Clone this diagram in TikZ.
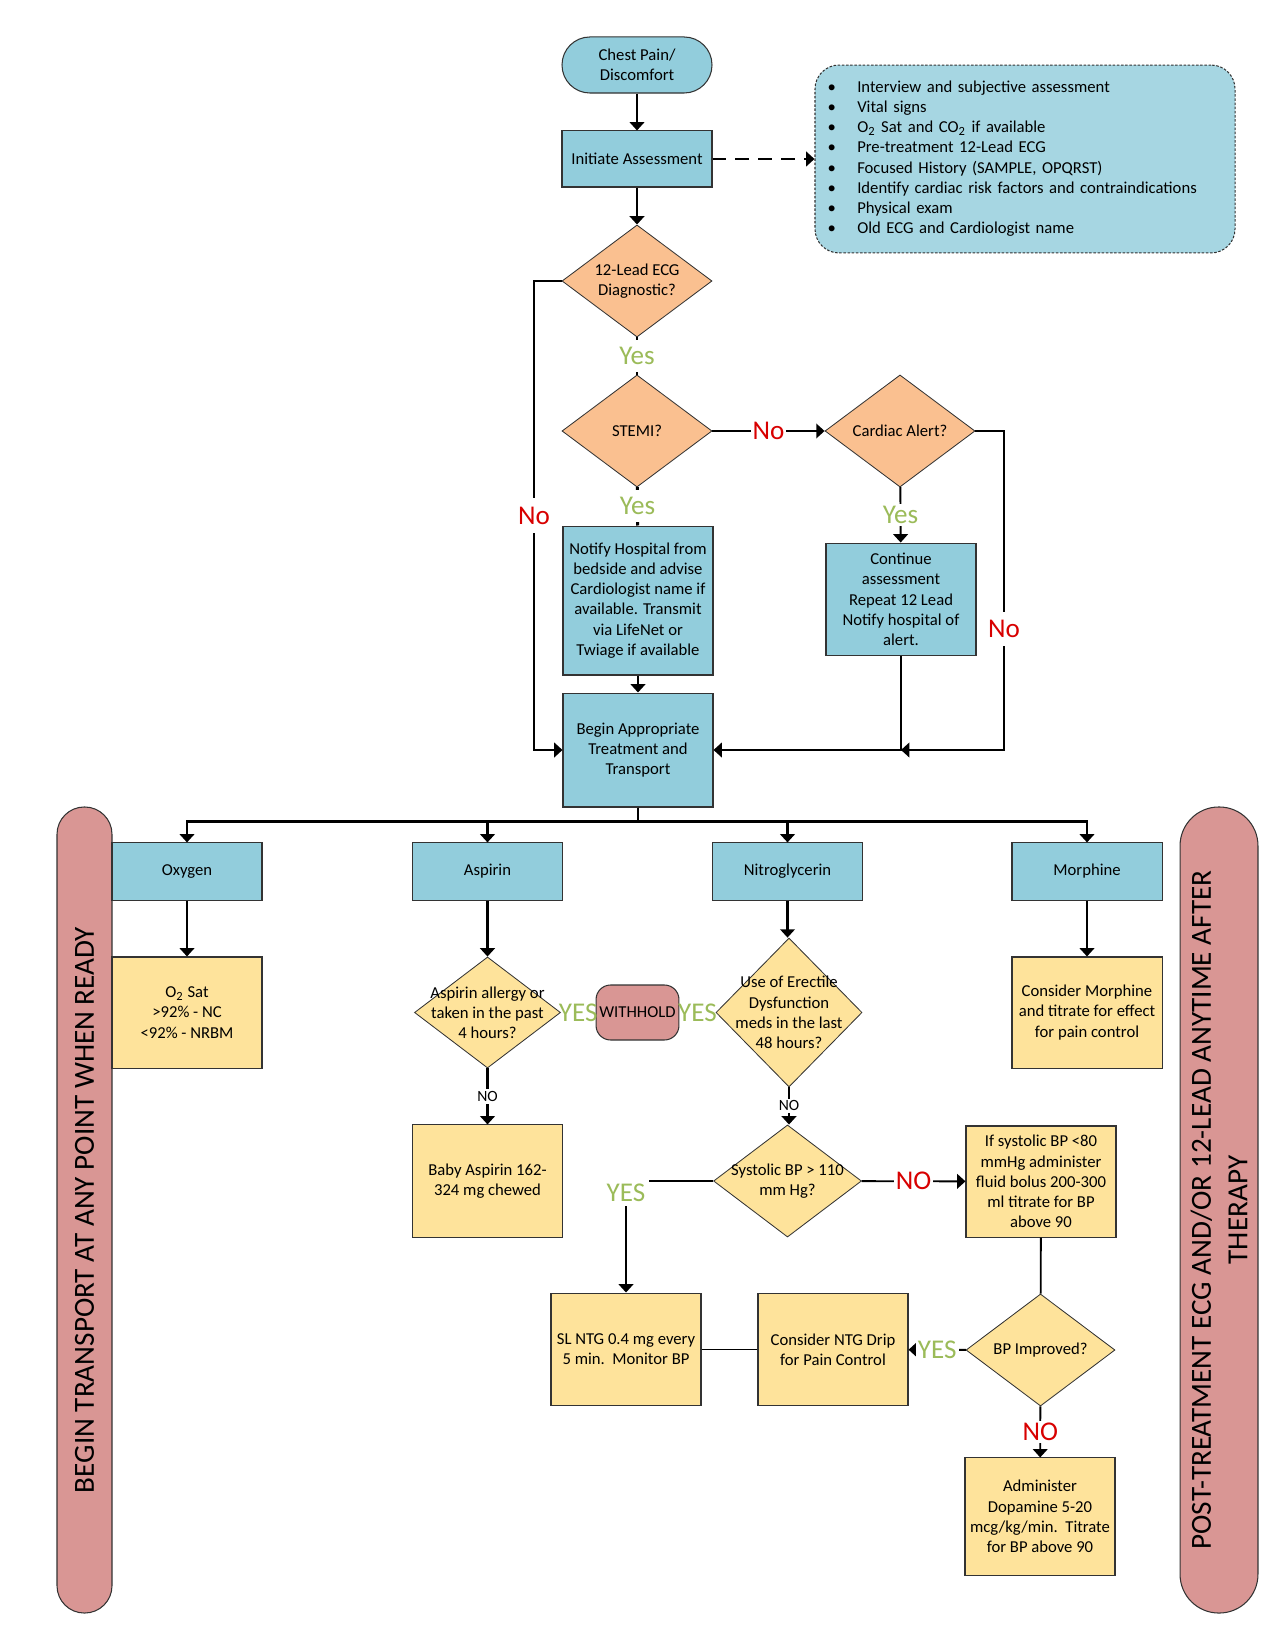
\documentclass[tikz,border=0pt]{standalone}
\usepackage{fontspec}
\setmainfont{Carlito}
\usetikzlibrary{shapes.geometric,arrows.meta}
\definecolor{boxblue}{HTML}{92CDDC}
\definecolor{infoblue}{HTML}{A6D6E2}
\definecolor{diaorange}{HTML}{FAC090}
\definecolor{boxyellow}{HTML}{FEE39B}
\definecolor{barred}{HTML}{D99694}
\definecolor{yesgreen}{HTML}{9BBB59}
\definecolor{nored}{HTML}{D80000}

\begin{document}
\begin{tikzpicture}[x=0.48pt, y=-0.48pt,
        box/.style={draw=black!80, line width=0.5pt, fill=boxblue, minimum width=72pt, minimum height=27.4pt,
            inner sep=1pt, align=center, font=\fontsize{8}{9.7}\selectfont},
        ybox/.style={box, fill=boxyellow, minimum height=53.3pt},
        startbox/.style={box, rounded corners=13.4pt, minimum height=26.9pt},
        infobox/.style={draw=black!80, line width=0.5pt, dash pattern=on 1.2pt off 0.8pt, fill=infoblue,
            rounded corners=11.5pt, text width=189.4pt, inner xsep=6.1pt, minimum height=90.2pt, align=left,
            font=\fontsize{8}{9.7}\selectfont},
        dia/.style={diamond, draw=black!80, line width=0.4pt, fill=diaorange, minimum width=72pt,
            minimum height=53.8pt, inner sep=0pt},
        ydia/.style={dia, fill=boxyellow},
        dtxt/.style={align=center, inner sep=0pt, font=\fontsize{8}{9.7}\selectfont},
        holdbox/.style={box, fill=barred, rounded corners=7pt, minimum width=39.8pt, minimum height=26.4pt},
        sidebar/.style={draw=black!80, line width=0.5pt, fill=barred, rotate=90, minimum width=386.9pt,
            align=center, inner sep=0pt, font=\fontsize{14}{17.5}\selectfont},
        arr/.style={line width=1.4pt, -{Triangle[length=4pt,width=7pt]}},
        marr/.style={line width=0.9pt, -{Triangle[length=4pt,width=7pt]}},
        link/.style={line width=1.4pt},
        mlink/.style={line width=0.9pt},
        yes/.style={font=\fontsize{13}{15}\selectfont, text=yesgreen, fill=white, inner sep=1pt},
        no/.style={yes, text=nored},
        sno/.style={font=\fontsize{7.5}{9}\selectfont, fill=white, inner sep=1pt}]

    \useasboundingbox (0,0) rectangle (1275,1650);

    \node[sidebar, minimum height=26.4pt, rounded corners=13.1pt] (leftbar) at (84.5,1210) {BEGIN TRANSPORT AT ANY POINT WHEN READY};
    \node[sidebar, minimum height=37.4pt, rounded corners=18.6pt] (rightbar) at (1219,1210) {POST-TREATMENT ECG AND/OR 12-LEAD ANYTIME AFTER\\THERAPY};

    \node[startbox] (chest) at (637,65) {Chest Pain/\\Discomfort};
    \node[box, minimum height=26.9pt] (init) at (637,159) {Initiate Assessment};
    \node[infobox] (info) at (1025,159) {\begin{tabular}{@{}l@{\hspace{10.2pt}}l@{}}
        \textbullet & Interview and subjective assessment\\
        \textbullet & Vital signs\\
        \textbullet & O\textsubscript{2} Sat and CO\textsubscript{2} if available\\
        \textbullet & Pre-treatment 12-Lead ECG\\
        \textbullet & Focused History (SAMPLE, OPQRST)\\
        \textbullet & Identify cardiac risk factors and contraindications\\
        \textbullet & Physical exam\\
        \textbullet & Old ECG and Cardiologist name
    \end{tabular}};

    \node[dia] (ecg) at (637,281) {};
    \node[dtxt] at (ecg) {12-Lead ECG\\Diagnostic?};
    \node[dia] (stemi) at (637,431) {};
    \node[dtxt] at (stemi) {STEMI?};
    \node[dia] (alert) at (900,431) {};
    \node[dtxt] at (alert) {Cardiac Alert?};

    \node[box, minimum height=71.5pt] (notify) at (638,600.5) {Notify Hospital from\\bedside and advise\\Cardiologist name if\\available. Transmit\\via LifeNet or\\Twiage if available};
    \node[box, minimum height=54.2pt] (cont) at (901,599.5) {Continue\\assessment\\Repeat 12 Lead\\Notify hospital of\\alert.};
    \node[box, minimum height=54.7pt] (begin) at (638,750) {Begin Appropriate\\Treatment and\\Transport};

    \node[box] (oxy) at (187,871.5) {Oxygen};
    \node[box] (asp) at (487.5,871.5) {Aspirin};
    \node[box] (nitro) at (787.5,871.5) {Nitroglycerin};
    \node[box] (morph) at (1087,871.5) {Morphine};

    \node[ybox] (sat) at (187,1012.5) {O\textsubscript{2} Sat\\>92\% - NC\\<92\% - NRBM};
    \node[ydia, minimum width=70.1pt, minimum height=53.3pt] (allergy) at (487.5,1012.5) {};
    \node[dtxt] at (allergy) {Aspirin allergy or\\taken in the past\\4 hours?};
    \node[holdbox] (withhold) at (637.5,1012.5) {WITHHOLD};
    \node[ydia, minimum width=70.1pt, minimum height=71.5pt] (ed) at (789,1012.5) {};
    \node[dtxt] at (ed) {Use of Erectile\\Dysfunction\\meds in the last\\48 hours?};
    \node[ybox] (cmorph) at (1087,1012.5) {Consider Morphine\\and titrate for effect\\for pain control};

    \node[ybox, minimum height=53.8pt] (baby) at (487.5,1181) {Baby Aspirin 162-\\324 mg chewed};
    \node[ydia, minimum width=71pt] (sys) at (787.5,1181) {};
    \node[dtxt] at (sys) {Systolic BP > 110\\mm Hg?};
    \node[ybox] (fluid) at (1041,1181.5) {If systolic BP <80\\mmHg administer\\fluid bolus 200-300\\ml titrate for BP\\above 90};

    \node[ybox, minimum height=54.2pt] (sl) at (626,1349.5) {SL NTG 0.4 mg every\\5 min.\ \ Monitor BP};
    \node[ybox, minimum height=54.2pt] (ntg) at (833,1349.5) {Consider NTG Drip\\for Pain Control};
    \node[ydia, minimum width=71.5pt] (bp) at (1040.5,1350) {};
    \node[dtxt] at (bp) {BP Improved?};
    \node[ybox, minimum height=56.2pt] (dop) at (1040,1516.5) {Administer\\Dopamine 5-20\\mcg/kg/min.\ \ Titrate\\for BP above 90};

    \draw[arr] (chest) -- (init);
    \draw[arr, dash pattern=on 6.5pt off 4.5pt] (init) -- (info);
    \draw[arr] (init) -- (ecg);
    \coordinate (ecgno) at (534,281);
    \draw[arr] (ecg.west) -- (ecgno) |- node[pos=0.25, no, inner ysep=4pt] {No} (begin.west);
    \draw[link] (ecg) -- node[yes, inner ysep=3.5pt] {Yes} (stemi);
    \draw[link] (stemi) -- node[yes, inner ysep=3.5pt] {Yes} (notify);
    \draw[marr] (stemi) -- node[no] {No} (alert);
    \draw[marr] (alert) -- node[yes] {Yes} (cont);
    \coordinate (alertno) at (1004,431);
    \draw[marr] (alert.east) -- (alertno) |- node[pos=0.31, no, inner ysep=4pt] {No} (cont.south |- begin.east);
    \draw[arr] (cont.south) |- (begin.east);
    \draw[arr] (notify) -- (begin);

    \draw[arr] (begin.south) -- ++(0,14) -| (oxy.north);
    \draw[arr] (begin.south) -- ++(0,14) -| (asp.north);
    \draw[arr] (begin.south) -- ++(0,14) -| (nitro.north);
    \draw[arr] (begin.south) -- ++(0,14) -| (morph.north);

    \draw[arr] (oxy) -- (sat);
    \draw[arr] (asp) -- (allergy);
    \draw[arr] (nitro.south) -- (nitro.south |- ed.north);
    \draw[arr] (morph) -- (cmorph);
    \draw[arr] (allergy) -- node[sno] {NO} (baby);
    \draw[arr] (ed.south) -- node[sno] {NO} (ed.south |- sys.north);
    \path (allergy) -- node[yes, fill=none] {YES} (withhold);
    \path (withhold) -- node[yes, fill=none] {YES} (ed);

    \draw[marr] (sys.west) -| node[pos=0.5, yes, yshift=-5.8pt, inner sep=2pt] {YES} (sl.north);
    \draw[marr] (sys) -- node[no] {NO} (fluid);
    \draw[mlink] (fluid) -- (bp);
    \draw[marr] (bp) -- node[yes] {YES} (ntg);
    \draw[mlink] (ntg) -- (sl);
    \draw[marr] (bp) -- node[no] {NO} (dop);
\end{tikzpicture}
\end{document}
